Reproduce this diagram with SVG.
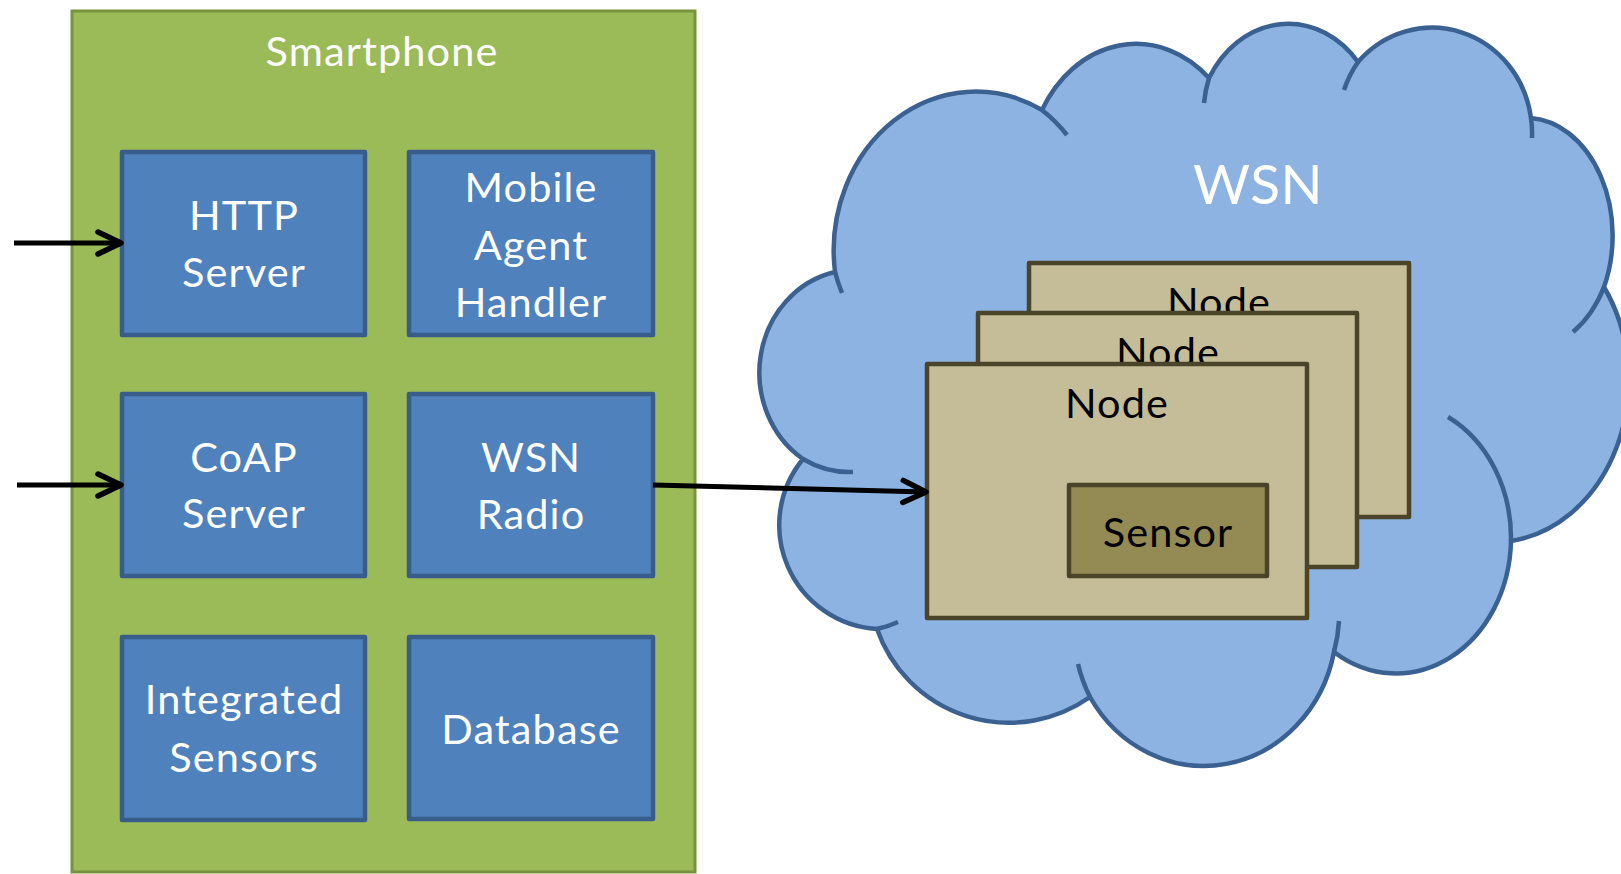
<svg xmlns="http://www.w3.org/2000/svg" width="1621" height="874" viewBox="0 0 1621 874">
  <defs>
    <style>
      .lbl { font-family: Lato, "Open Sans", sans-serif; font-size: 41.5px; letter-spacing: 1.1px; text-anchor: middle; }
      .white { fill: #ffffff; }
      .dark { fill: #000000; }
      .phone { fill: #9bbb59; stroke: #77933c; stroke-width: 3; }
      .block { fill: #4f81bd; stroke: #385d8a; stroke-width: 4.5; stroke-linejoin: round; }
      .cloud { fill: #8db3e2; stroke: #3b6192; stroke-width: 4.5; }
      .tick { fill: none; stroke: #3b6192; stroke-width: 4.5; }
      .node { fill: #c4bd97; stroke: #4a452a; stroke-width: 4.5; stroke-linejoin: round; }
      .sensor { fill: #948a54; stroke: #4a452a; stroke-width: 4.5; stroke-linejoin: round; }
      .link { fill: none; stroke: #000000; stroke-width: 5; }
    </style>
    <marker id="chevron" viewBox="-30 -16 34 32" refX="0" refY="0" markerWidth="34" markerHeight="32" markerUnits="userSpaceOnUse" orient="auto" overflow="visible">
      <path d="M -23 -11 L 0 0 L -23 11" fill="none" stroke="#000000" stroke-width="5.5" stroke-linecap="round" stroke-linejoin="round"/>
    </marker>
  </defs>

  <rect width="1621" height="874" fill="#ffffff"/>

  <!-- smartphone container -->
  <g id="smartphone">
    <rect class="phone" x="72" y="11" width="623" height="861"/>
    <text class="lbl white" x="382" y="66">Smartphone</text>
  </g>

  <g id="http-server">
    <rect class="block" x="122" y="152" width="243" height="183"/>
    <text class="lbl white" x="244" y="230">HTTP</text>
    <text class="lbl white" x="244" y="287">Server</text>
  </g>

  <g id="mobile-agent-handler">
    <rect class="block" x="409" y="152" width="244" height="183"/>
    <text class="lbl white" x="531" y="202">Mobile</text>
    <text class="lbl white" x="531" y="260">Agent</text>
    <text class="lbl white" x="531" y="317">Handler</text>
  </g>

  <g id="coap-server">
    <rect class="block" x="122" y="394" width="243" height="182"/>
    <text class="lbl white" x="244" y="472">CoAP</text>
    <text class="lbl white" x="244" y="528">Server</text>
  </g>

  <g id="wsn-radio">
    <rect class="block" x="409" y="394" width="244" height="182"/>
    <text class="lbl white" x="531" y="472">WSN</text>
    <text class="lbl white" x="531" y="529">Radio</text>
  </g>

  <g id="integrated-sensors">
    <rect class="block" x="122" y="637" width="243" height="183"/>
    <text class="lbl white" x="244" y="714">Integrated</text>
    <text class="lbl white" x="244" y="772">Sensors</text>
  </g>

  <g id="database">
    <rect class="block" x="409" y="637" width="244" height="182"/>
    <text class="lbl white" x="531" y="744">Database</text>
  </g>

  <!-- sensor network cloud: outer bumps, then the short inner arcs -->
  <g id="wsn-cloud">
    <path class="cloud" d="M 835 272
      A 142 159 0 0 1 1042 110
      A 108 130 0 0 1 1209 78
      A 92 110 0 0 1 1358 62
      A 100 105 0 0 1 1531 118
      A 87 118 0 0 1 1604 287
      A 135 162 0 0 1 1511 541
      A 115 136 0 0 1 1334 652
      A 133 143 0 0 1 1090 697
      A 140 140 0 0 1 877 629
      A 104 104 0 0 1 803 459
      A 96 103 0 0 1 835 272 Z"/>
    <path class="tick" d="M 835 272 A 142 159 0 0 0 842 293
      M 1042 110 A 142 159 0 0 1 1067 135
      M 1209 78 A 92 110 0 0 0 1204 103
      M 1358 62 A 100 105 0 0 0 1344 90
      M 1531 118 A 100 105 0 0 1 1532 138
      M 1604 287 A 87 118 0 0 1 1573 332
      M 1448 417 A 115 136 0 0 1 1511 541
      M 1334 652 A 133 143 0 0 0 1339 621
      M 1090 697 A 133 143 0 0 1 1078 664
      M 877 629 A 104 104 0 0 0 898 622
      M 803 459 A 96 103 0 0 0 853 472"/>
    <text class="lbl white" x="1258" y="204" style="font-size:55px; letter-spacing:0.5px">WSN</text>
  </g>

  <g id="node-back">
    <rect class="node" x="1029" y="263" width="380" height="254"/>
    <text class="lbl dark" x="1219" y="317">Node</text>
  </g>

  <g id="node-middle">
    <rect class="node" x="978" y="313" width="379" height="254"/>
    <text class="lbl dark" x="1168" y="367">Node</text>
  </g>

  <g id="node-front">
    <rect class="node" x="927" y="364" width="380" height="254"/>
    <text class="lbl dark" x="1117" y="418">Node</text>
  </g>

  <g id="sensor">
    <rect class="sensor" x="1069" y="485" width="198" height="91"/>
    <text class="lbl dark" x="1168" y="547">Sensor</text>
  </g>

  <!-- connectors -->
  <g id="connectors">
    <line class="link" x1="14" y1="243" x2="121" y2="243" marker-end="url(#chevron)"/>
    <line class="link" x1="17" y1="485" x2="121" y2="485" marker-end="url(#chevron)"/>
    <line class="link" x1="653" y1="485" x2="926" y2="492" marker-end="url(#chevron)"/>
  </g>
</svg>
